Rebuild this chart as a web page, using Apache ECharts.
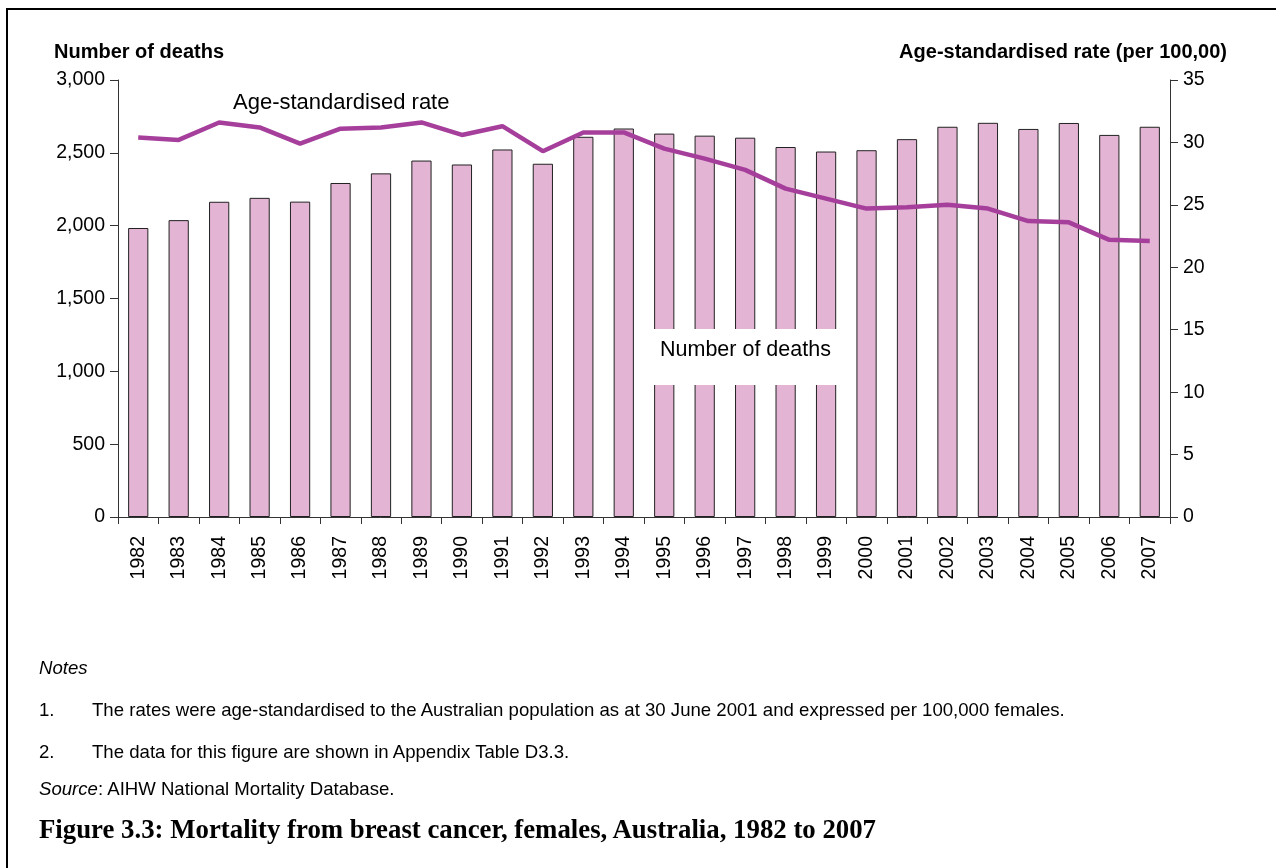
<!DOCTYPE html>
<html>
<head>
<meta charset="utf-8">
<script src="https://cdn.jsdelivr.net/npm/echarts@6/dist/echarts.min.js"></script>
<style>
  html, body { margin: 0; padding: 0; background: #fff; }
  #wrap { position: relative; width: 1276px; height: 868px; overflow: hidden; }
  #frame { position: absolute; left: 6px; top: 8px; width: 1275px; height: 870px; border-left: 2px solid #000; border-top: 2px solid #000; border-right: 2px solid #000; box-sizing: border-box; }
  #chart { position: absolute; left: 0; top: 0; width: 1276px; height: 868px; }
  .note { position: absolute; font-family: "Liberation Sans", Arial, sans-serif; font-size: 18.6px; line-height: 20px; color: #000; white-space: nowrap; }
  .title { position: absolute; font-family: "Liberation Serif", "Times New Roman", serif; font-weight: bold; font-size: 26.8px; line-height: 30px; color: #000; white-space: nowrap; }
</style>
</head>
<body>
<div id="wrap">
  <div id="frame"></div>
  <div id="chart"></div>
  <div class="note" style="left:39px; top:658px;"><i>Notes</i></div>
  <div class="note" style="left:39px; top:700px;">1.</div>
  <div class="note" style="left:92px; top:700px;">The rates were age-standardised to the Australian population as at 30 June 2001 and expressed per 100,000 females.</div>
  <div class="note" style="left:39px; top:742px;">2.</div>
  <div class="note" style="left:92px; top:742px;">The data for this figure are shown in Appendix Table D3.3.</div>
  <div class="note" style="left:39px; top:779px;"><i>Source</i>: AIHW National Mortality Database.</div>
  <div class="title" style="left:39px; top:814px;">Figure 3.3: Mortality from breast cancer, females, Australia, 1982 to 2007</div>
</div>
<script>
const years = ['1982','1983','1984','1985','1986','1987','1988','1989','1990','1991','1992','1993','1994',
               '1995','1996','1997','1998','1999','2000','2001','2002','2003','2004','2005','2006','2007'];
const deaths = [1984, 2038, 2164, 2191, 2165, 2293, 2359, 2447, 2420, 2523, 2425, 2610, 2667,
                2632, 2618, 2604, 2540, 2509, 2518, 2594, 2679, 2706, 2664, 2705, 2623, 2679];
const rates = [30.4, 30.2, 31.6, 31.2, 29.9, 31.1, 31.2, 31.6, 30.6, 31.3, 29.3, 30.8, 30.8,
               29.5, 28.7, 27.8, 26.3, 25.5, 24.7, 24.8, 25.0, 24.7, 23.7, 23.6, 22.2, 22.1];
const leftTicks = [0, 3000, 500];
const rightTicks = [0, 35, 5];

const font = '"Liberation Sans", Arial, sans-serif';
const chart = echarts.init(document.getElementById('chart'), null, { renderer: 'canvas' });
const axisColor = '#333';

chart.setOption({
  animation: false,
  grid: { left: 118, right: 106, top: 80, bottom: 351, containLabel: false },
  xAxis: {
    type: 'category',
    data: years,
    boundaryGap: true,
    axisLine: { lineStyle: { color: axisColor, width: 1 } },
    axisTick: { show: true, length: 7, lineStyle: { color: axisColor } },
    axisLabel: { rotate: 90, margin: 19, fontFamily: font, fontSize: 19.5, color: '#000' }
  },
  yAxis: [
    {
      type: 'value', min: leftTicks[0], max: leftTicks[1], interval: leftTicks[2], position: 'left',
      axisLine: { show: true, lineStyle: { color: axisColor, width: 1 } },
      axisTick: { show: true, length: 8, lineStyle: { color: axisColor } },
      splitLine: { show: false },
      axisLabel: { margin: 13, fontFamily: font, fontSize: 19.5, color: '#000',
        formatter: v => v.toLocaleString('en-US') }
    },
    {
      type: 'value', min: rightTicks[0], max: rightTicks[1], interval: rightTicks[2], position: 'right',
      axisLine: { show: true, lineStyle: { color: axisColor, width: 1 } },
      axisTick: { show: true, length: 8, lineStyle: { color: axisColor } },
      splitLine: { show: false },
      axisLabel: { margin: 13, fontFamily: font, fontSize: 19.5, color: '#000' }
    }
  ],
  series: [
    {
      name: 'Number of deaths', type: 'bar', data: deaths, yAxisIndex: 0,
      barWidth: '50%',
      itemStyle: { color: '#e3b4d3', borderColor: '#222', borderWidth: 1 },
      z: 2
    },
    {
      name: 'Age-standardised rate', type: 'line', data: rates, yAxisIndex: 1,
      symbol: 'none', lineStyle: { color: '#a63f9b', width: 4.5 },
      z: 4
    }
  ],
  graphic: [
    { type: 'text', left: 54, top: 42, style: { text: 'Number of deaths', font: 'bold 20px ' + font, fill: '#000' } },
    { type: 'text', right: 49, top: 42, style: { text: 'Age-standardised rate (per 100,00)', font: 'bold 20px ' + font, fill: '#000' } },
    { type: 'text', left: 233, top: 92, z: 10, style: { text: 'Age-standardised rate', font: '22px ' + font, fill: '#000' } },
    { type: 'rect', shape: { x: 653, y: 329, width: 190, height: 56 }, z: 8, style: { fill: '#fff' } },
    { type: 'text', left: 660, top: 339, z: 10, style: { text: 'Number of deaths', font: '21.5px ' + font, fill: '#000' } }
  ]
});
</script>
</body>
</html>
